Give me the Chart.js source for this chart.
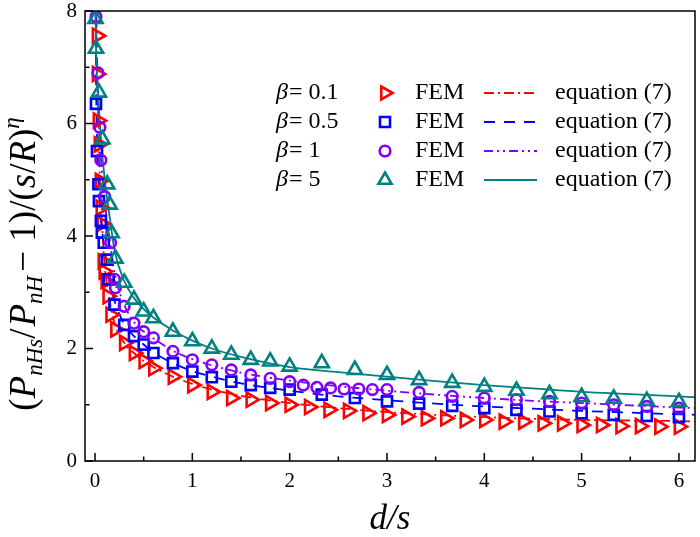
<!DOCTYPE html>
<html>
<head>
<meta charset="utf-8">
<script src="https://cdn.jsdelivr.net/npm/chart.js@4.4.0/dist/chart.umd.min.js"></script>
<style>
  body { margin: 0; background: #fff; }
</style>
</head>
<body>
<canvas id="chart" width="700" height="537"></canvas>
<script>
// FEM points (x = d/s)
const redX = [0.02, 0.02, 0.03, 0.04, 0.05, 0.06, 0.07, 0.08, 0.09, 0.11, 0.13, 0.16, 0.21, 0.3, 0.4, 0.5, 0.6, 0.8, 1.0, 1.2, 1.4, 1.6, 1.8, 2.0, 2.2, 2.4, 2.6, 2.8, 3.0, 3.2, 3.4, 3.6, 3.8, 4.0, 4.2, 4.4, 4.6, 4.8, 5.0, 5.2, 5.4, 5.6, 5.8, 6.0];
const redY = [7.56, 6.88, 6.05, 5.63, 4.98, 4.50, 4.22, 3.55, 3.37, 3.20, 2.93, 2.60, 2.34, 2.10, 1.92, 1.78, 1.65, 1.50, 1.35, 1.23, 1.12, 1.09, 1.03, 1.00, 0.96, 0.91, 0.89, 0.85, 0.82, 0.79, 0.76, 0.76, 0.73, 0.73, 0.70, 0.70, 0.67, 0.67, 0.64, 0.64, 0.62, 0.62, 0.61, 0.61];

const blueX = [0.01, 0.02, 0.035, 0.04, 0.06, 0.07, 0.09, 0.12, 0.14, 0.2, 0.3, 0.4, 0.5, 0.6, 0.8, 1.0, 1.2, 1.4, 1.6, 1.8, 2.0, 2.33, 2.67, 3.0, 3.33, 3.67, 4.0, 4.33, 4.67, 5.0, 5.33, 5.67, 6.0];
const blueY = [6.35, 5.51, 4.92, 4.62, 4.27, 4.06, 3.88, 3.58, 3.23, 2.78, 2.42, 2.22, 2.07, 1.92, 1.74, 1.59, 1.49, 1.41, 1.35, 1.30, 1.27, 1.18, 1.12, 1.06, 1.02, 0.98, 0.94, 0.91, 0.88, 0.85, 0.82, 0.80, 0.78];

const purpX = [0.01, 0.03, 0.05, 0.06, 0.1, 0.16, 0.2, 0.21, 0.3, 0.4, 0.5, 0.6, 0.8, 1.0, 1.2, 1.4, 1.6, 1.8, 2.0, 2.14, 2.28, 2.42, 2.56, 2.71, 2.85, 3.0, 3.33, 3.67, 4.0, 4.33, 4.67, 5.0, 5.33, 5.67, 6.0];
const purpY = [7.9, 6.9, 5.93, 5.35, 4.7, 3.88, 3.23, 3.08, 2.75, 2.45, 2.30, 2.19, 1.95, 1.80, 1.71, 1.62, 1.53, 1.47, 1.41, 1.35, 1.31, 1.30, 1.28, 1.28, 1.27, 1.27, 1.22, 1.15, 1.12, 1.09, 1.06, 1.03, 1.00, 0.97, 0.94];

const tealX = [0.005, 0.01, 0.04, 0.075, 0.125, 0.15, 0.17, 0.21, 0.3, 0.4, 0.5, 0.6, 0.8, 1.0, 1.2, 1.4, 1.6, 1.8, 2.0, 2.33, 2.67, 3.0, 3.33, 3.67, 4.0, 4.33, 4.67, 5.0, 5.33, 5.67, 6.0];
const tealY = [7.86, 7.33, 6.55, 5.72, 4.92, 4.56, 4.05, 3.60, 3.17, 2.87, 2.66, 2.54, 2.30, 2.13, 2.00, 1.89, 1.80, 1.77, 1.68, 1.74, 1.62, 1.53, 1.44, 1.39, 1.32, 1.25, 1.19, 1.14, 1.11, 1.07, 1.05];

// equation (7) curves
const redLineX = [0.01, 0.02, 0.03, 0.05, 0.08, 0.1, 0.15, 0.2, 0.3, 0.4, 0.5, 0.6, 0.8, 1.0, 1.2, 1.5, 2.0, 2.5, 3.0, 3.5, 4.0, 4.5, 5.0, 5.5, 6.0, 6.2];
const redLineY = [8.6, 7.3, 6.3, 5.0, 3.95, 3.45, 2.85, 2.45, 2.10, 1.92, 1.78, 1.67, 1.50, 1.37, 1.27, 1.16, 1.03, 0.94, 0.87, 0.82, 0.78, 0.75, 0.73, 0.72, 0.71, 0.70];

const blueLineX = [0.005, 0.01, 0.02, 0.03, 0.04, 0.06, 0.08, 0.1, 0.15, 0.2, 0.3, 0.4, 0.5, 0.6, 0.8, 1.0, 1.2, 1.5, 2.0, 2.5, 3.0, 3.5, 4.0, 4.5, 5.0, 5.5, 6.0, 6.2];
const blueLineY = [8.3, 6.9, 5.8, 5.2, 4.8, 4.3, 4.0, 3.75, 3.2, 2.85, 2.43, 2.22, 2.07, 1.93, 1.74, 1.60, 1.50, 1.38, 1.25, 1.15, 1.08, 1.02, 0.97, 0.93, 0.89, 0.86, 0.83, 0.82];

const purpLineX = [0.005, 0.01, 0.02, 0.04, 0.06, 0.1, 0.15, 0.2, 0.3, 0.4, 0.5, 0.6, 0.8, 1.0, 1.2, 1.5, 2.0, 2.5, 3.0, 3.5, 4.0, 4.5, 5.0, 5.5, 6.0, 6.2];
const purpLineY = [8.5, 7.9, 7.0, 6.0, 5.4, 4.6, 3.95, 3.35, 2.78, 2.47, 2.30, 2.18, 1.96, 1.81, 1.70, 1.57, 1.43, 1.33, 1.25, 1.18, 1.12, 1.07, 1.03, 0.99, 0.95, 0.94];

const tealLineX = [0.005, 0.01, 0.03, 0.06, 0.1, 0.15, 0.2, 0.3, 0.4, 0.5, 0.6, 0.8, 1.0, 1.2, 1.5, 2.0, 2.5, 3.0, 3.5, 4.0, 4.5, 5.0, 5.5, 6.0, 6.2];
const tealLineY = [8.1, 7.35, 6.6, 5.75, 5.0, 4.35, 3.75, 3.2, 2.9, 2.7, 2.55, 2.32, 2.14, 2.0, 1.85, 1.67, 1.58, 1.50, 1.42, 1.35, 1.29, 1.23, 1.19, 1.15, 1.13];

const betaLabels = ['0.1', '0.5', '1', '5'];
const xTicks = [0, 1, 2, 3, 4, 5, 6];
const xMinor = [0.5, 1.5, 2.5, 3.5, 4.5, 5.5];
const yTicks = [0, 2, 4, 6, 8];
const yMinor = [1, 3, 5, 7];

const RED = 'rgb(255,0,0)';
const BLUE = 'rgb(0,0,255)';
const PURPLE = 'rgb(128,0,255)';
const TEAL = 'rgb(0,128,128)';
const SERIF = '"Liberation Serif", "Times New Roman", serif';

function pts(xs, ys) {
  return xs.map((x, i) => ({ x: x, y: ys[i] }));
}

function femSet(xs, ys, color, style, radius, rotation) {
  return {
    data: pts(xs, ys),
    showLine: false,
    pointStyle: style,
    pointRadius: radius,
    rotation: rotation || 0,
    pointBorderColor: color,
    pointBackgroundColor: 'rgba(0,0,0,0)',
    pointBorderWidth: 2.6,
    order: 1
  };
}

function eqSet(xs, ys, color, dash) {
  return {
    data: pts(xs, ys),
    showLine: true,
    borderColor: color,
    borderWidth: 1.8,
    borderDash: dash,
    pointRadius: 0,
    cubicInterpolationMode: 'monotone',
    order: 5
  };
}

const legendRows = [
  { color: RED, style: 'tri-right', dash: [10, 4, 2, 4] },
  { color: BLUE, style: 'rect', dash: [11, 9] },
  { color: PURPLE, style: 'circle', dash: [9, 4, 2, 4, 2, 4] },
  { color: TEAL, style: 'triangle', dash: [] }
];

function drawMarker(ctx, style, x, y, color) {
  ctx.save();
  ctx.strokeStyle = color;
  ctx.lineWidth = 2.6;
  ctx.beginPath();
  if (style === 'rect') {
    ctx.rect(x - 5, y - 5, 10, 10);
  } else if (style === 'circle') {
    ctx.arc(x, y, 5.3, 0, Math.PI * 2);
  } else if (style === 'triangle') {
    const r = 7.5;
    ctx.moveTo(x, y - r);
    ctx.lineTo(x + r * Math.sin(Math.PI * 2 / 3), y - r * Math.cos(Math.PI * 2 / 3));
    ctx.lineTo(x - r * Math.sin(Math.PI * 2 / 3), y - r * Math.cos(Math.PI * 2 / 3));
    ctx.closePath();
  } else {
    const r = 7.5;
    ctx.moveTo(x + r, y);
    ctx.lineTo(x - r * 0.5, y - r * 0.866);
    ctx.lineTo(x - r * 0.5, y + r * 0.866);
    ctx.closePath();
  }
  ctx.stroke();
  ctx.restore();
}

// draw a row of text pieces centred on 0, each with its own font / baseline shift
function drawRuns(ctx, runs) {
  let total = 0;
  runs.forEach(r => { ctx.font = r.font; total += ctx.measureText(r.text).width + (r.gap || 0); });
  let x = -total / 2;
  runs.forEach(r => {
    ctx.font = r.font;
    ctx.fillText(r.text, x, r.dy || 0);
    x += ctx.measureText(r.text).width + (r.gap || 0);
  });
}

const decorPlugin = {
  id: 'decor',
  afterDatasetsDraw(chart) {
    const ctx = chart.ctx;
    const a = chart.chartArea;
    const xs = chart.scales.x;
    const ys = chart.scales.y;
    ctx.save();
    ctx.strokeStyle = '#000';
    ctx.lineWidth = 1.5;
    ctx.strokeRect(a.left, a.top, a.right - a.left, a.bottom - a.top);
    // inward ticks
    ctx.beginPath();
    xTicks.forEach(v => { const p = xs.getPixelForValue(v); ctx.moveTo(p, a.bottom); ctx.lineTo(p, a.bottom - 8); });
    xMinor.forEach(v => { const p = xs.getPixelForValue(v); ctx.moveTo(p, a.bottom); ctx.lineTo(p, a.bottom - 4.5); });
    yTicks.forEach(v => { const p = ys.getPixelForValue(v); ctx.moveTo(a.left, p); ctx.lineTo(a.left + 8, p); });
    yMinor.forEach(v => { const p = ys.getPixelForValue(v); ctx.moveTo(a.left, p); ctx.lineTo(a.left + 4.5, p); });
    ctx.stroke();

    // legend block
    ctx.fillStyle = '#000';
    ctx.textBaseline = 'middle';
    const rowY = [93, 122, 151, 180];
    legendRows.forEach((row, i) => {
      const y = rowY[i];
      ctx.textAlign = 'left';
      ctx.font = 'italic 24px ' + SERIF;
      ctx.fillText('\u03b2', 276, y);
      const bw = ctx.measureText('\u03b2').width;
      ctx.font = '24px ' + SERIF;
      ctx.fillText('= ' + betaLabels[i], 276 + bw + 1, y);
      drawMarker(ctx, row.style, 385, y, row.color);
      ctx.fillText('FEM', 415, y);
      ctx.save();
      ctx.strokeStyle = row.color;
      ctx.lineWidth = 1.8;
      ctx.setLineDash(row.dash);
      ctx.beginPath();
      ctx.moveTo(484, y);
      ctx.lineTo(537, y);
      ctx.stroke();
      ctx.restore();
      ctx.fillText('equation (7)', 555, y);
    });

    // x title
    ctx.textAlign = 'left';
    ctx.textBaseline = 'alphabetic';
    ctx.save();
    ctx.translate(390, 529);
    drawRuns(ctx, [{ text: 'd/s', font: 'italic 35px ' + SERIF }]);
    ctx.restore();

    // y title
    ctx.save();
    ctx.translate(35, 264);
    ctx.rotate(-Math.PI / 2);
    const big = '37px ' + SERIF;
    const bigI = 'italic 37px ' + SERIF;
    const sm = 'italic 23px ' + SERIF;
    drawRuns(ctx, [
      { text: '(', font: big },
      { text: 'P', font: bigI },
      { text: 'nHs', font: sm, dy: 7 },
      { text: '/', font: big, gap: 2 },
      { text: 'P', font: bigI },
      { text: 'nH', font: sm, dy: 7, gap: 4 },
      { text: '\u2212 1)/(', font: big },
      { text: 's', font: bigI },
      { text: '/', font: big },
      { text: 'R', font: bigI },
      { text: ')', font: big },
      { text: '\u03b7', font: sm, dy: -16 }
    ]);
    ctx.restore();
    ctx.restore();
  }
};

new Chart(document.getElementById('chart').getContext('2d'), {
  type: 'scatter',
  data: {
    datasets: [
      femSet(tealX, tealY, TEAL, 'triangle', 8.2),
      femSet(purpX, purpY, PURPLE, 'circle', 5.3),
      femSet(blueX, blueY, BLUE, 'rect', 7.1),
      femSet(redX, redY, RED, 'triangle', 8.2, 90),
      eqSet(tealLineX, tealLineY, TEAL, []),
      eqSet(purpLineX, purpLineY, PURPLE, [9, 4, 2, 4, 2, 4]),
      eqSet(blueLineX, blueLineY, BLUE, [11, 9]),
      eqSet(redLineX, redLineY, RED, [10, 4, 2, 4])
    ]
  },
  options: {
    responsive: false,
    animation: false,
    layout: { autoPadding: false, padding: { top: 11, right: 5, left: 0, bottom: 0 } },
    plugins: { legend: { display: false }, tooltip: { enabled: false } },
    scales: {
      x: {
        type: 'linear',
        min: -0.103,
        max: 6.165,
        grid: { display: false, drawTicks: false },
        border: { display: false },
        afterBuildTicks: s => { s.ticks = xTicks.map(v => ({ value: v })); },
        afterFit: s => { s.height = 76; s.paddingLeft = 0; s.paddingRight = 0; },
        ticks: { color: '#000', padding: 8, maxRotation: 0, font: { family: SERIF, size: 21 } }
      },
      y: {
        type: 'linear',
        min: 0,
        max: 8,
        grid: { display: false, drawTicks: false },
        border: { display: false },
        afterBuildTicks: s => { s.ticks = yTicks.map(v => ({ value: v })); },
        afterFit: s => { s.width = 85; s.paddingTop = 0; s.paddingBottom = 0; },
        ticks: { color: '#000', padding: 8, font: { family: SERIF, size: 21 } }
      }
    }
  },
  plugins: [decorPlugin]
});
</script>
</body>
</html>
